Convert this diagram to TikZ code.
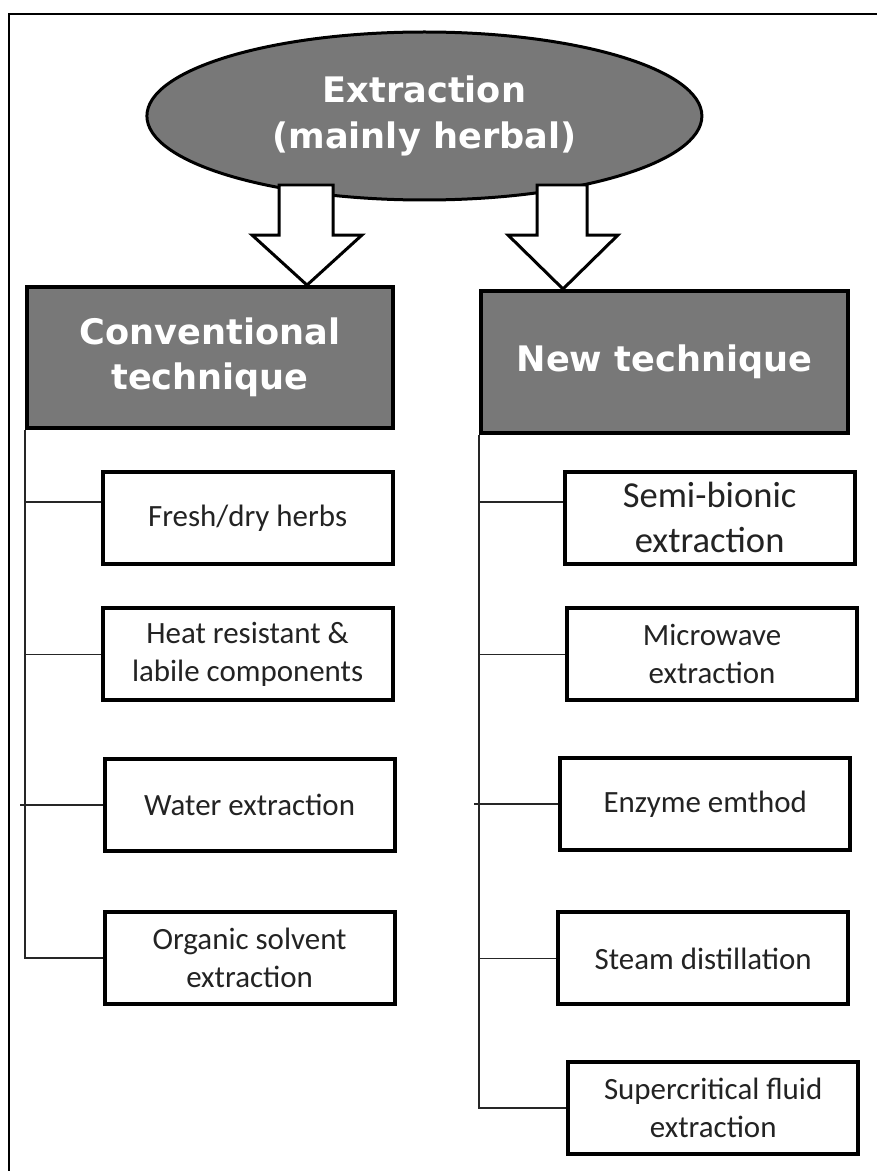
\documentclass[tikz,border=0pt]{standalone}
\usepackage{fontspec}
\setmainfont{Carlito}
\newfontfamily\headfont{DejaVu Sans}
\definecolor{HeadGray}{RGB}{120, 120, 120}
\definecolor{ItemText}{RGB}{35, 35, 35}
\usepackage{tikz}
\usetikzlibrary{shapes.geometric, positioning, calc}

\begin{document}
\begin{tikzpicture}[
            head/.style={draw, line width=0.1cm, fill=HeadGray, text=white, align=center, font=\headfont\bfseries\fontsize{25}{32}\selectfont, minimum width=9.15cm, minimum height=3.525cm},
            item/.style={draw, line width=0.1cm, fill=white, text=ItemText, align=center, font=\fontsize{22}{27}\selectfont, minimum width=7.25cm, minimum height=2.3cm},
            fat/.style={draw, line width=0.075cm, fill=white, line join=miter},
            link/.style={line width=1pt, black!85}
        ]
        \useasboundingbox (0, 0) rectangle (21.925, -29.275);

        % Frame
        \draw[line width=0.05cm] (0.225, -29.275) -- (0.225, -0.35) -- (21.925, -0.35);

        % Root
        \node[ellipse, draw, line width=0.075cm, fill=HeadGray, text=white, align=center, inner sep=0pt, font=\headfont\bfseries\fontsize{25}{33}\selectfont, minimum width=13.875cm, minimum height=4.2cm] (root) at (10.61, -2.9) {Extraction\\(mainly herbal)};

        % Two kinds of technique
        \node[head] (conv) at (5.25, -8.94) {Conventional\\technique};
        \node[head, minimum width=9.175cm, minimum height=3.55cm] (newt) at (16.61, -9.05) {New technique};

        % Block arrows from root to the two kinds
        \draw[fat] (6.975, -4.625) -- (8.325, -4.625) -- (8.325, -5.875) -- (9.05, -5.875) -- (7.675, 0 |- conv.north) -- (6.3, -5.875) -- (6.975, -5.875) -- cycle;
        \draw[fat] (13.425, -4.625) -- (14.675, -4.625) -- (14.675, -5.875) -- (15.45, -5.875) -- (14.075, 0 |- newt.north) -- (12.7, -5.875) -- (13.425, -5.875) -- cycle;

        % Conventional branch
        \node[item] (fresh) at (6.19, -12.96) {Fresh/dry herbs};
        \node[item] (heat) at (6.19, -16.36) {Heat resistant \&\\labile components};
        \node[item] (water) at (6.24, -20.125) {Water extraction};
        \node[item] (organic) at (6.24, -23.95) {Organic solvent\\extraction};

        % New branch
        \node[item, font=\fontsize{26}{32}\selectfont] (semi) at (17.74, -12.94) {Semi-bionic\\extraction};
        \node[item] (micro) at (17.8, -16.36) {Microwave\\extraction};
        \node[item] (enzyme) at (17.63, -20.1) {Enzyme emthod};
        \node[item] (steam) at (17.58, -23.96) {Steam distillation};
        \node[item] (supercrit) at (17.83, -27.7) {Supercritical fluid\\extraction};

        % Connectors left
        \draw[link] (conv.south west) |- (organic.west);
        \draw[link] ([yshift=0.41cm]fresh.west) -- ([yshift=0.41cm]fresh.west -| conv.south west);
        \draw[link] (heat.west) -- (heat.west -| conv.south west);
        \draw[link] (water.west) -- ([xshift=-0.12cm]water.west -| conv.south west);

        % Connectors right
        \draw[link] (newt.south west) |- (supercrit.west);
        \draw[link] ([yshift=0.39cm]semi.west) -- ([yshift=0.39cm]semi.west -| newt.south west);
        \draw[link] (micro.west) -- (micro.west -| newt.south west);
        \draw[link] (enzyme.west) -- ([xshift=-0.12cm]enzyme.west -| newt.south west);
        \draw[link] (steam.west) -- (steam.west -| newt.south west);

        \end{tikzpicture}
\end{document}
